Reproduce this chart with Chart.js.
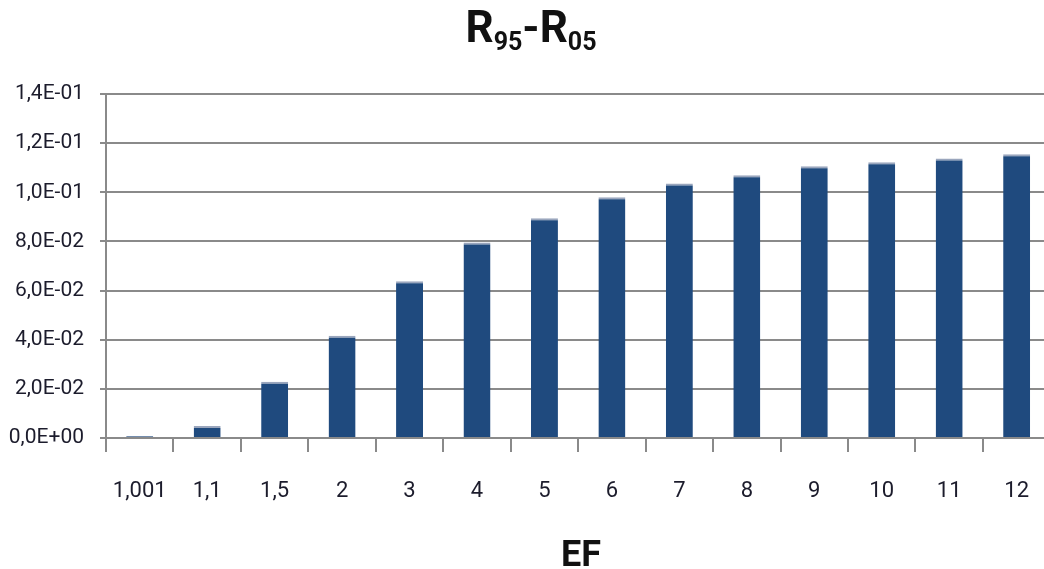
<!DOCTYPE html>
<html>
<head>
<meta charset="utf-8">
<script src="https://cdn.jsdelivr.net/npm/chart.js@4"></script>
<style>
    html, body { margin: 0; padding: 0; background: #fff; overflow: hidden; }
    #wrap { width: 1055px; height: 569px; }
</style>
</head>
<body>
<div id="wrap"><canvas id="rangeChart" width="1055" height="569"></canvas></div>
<script>
const efLabels = ['1,001', '1,1', '1,5', '2', '3', '4', '5', '6', '7', '8', '9', '10', '11', '12'];
const rangeValues = [0.0008, 0.0049, 0.0229, 0.0416, 0.0638, 0.0796, 0.0894, 0.0980, 0.1036, 0.1069, 0.1106, 0.1122, 0.1138, 0.1155];
const yTicks = [0, 0.02, 0.04, 0.06, 0.08, 0.10, 0.12, 0.14];

const fontFamily = 'Roboto, "Open Sans", sans-serif';
const textColor = '#1c1c2c';
const lineColor = '#8a8a8a';

// 1.4e-1 -> "1,4E-01"
function sciLabel(v) {
    var parts = Number(v).toExponential(1).split('e');
    var exp = parseInt(parts[1], 10);
    var sign = exp < 0 ? '-' : '+';
    var digits = String(Math.abs(exp)).padStart(2, '0');
    return parts[0].replace('.', ',') + 'E' + sign + digits;
}

// title with subscripts and the axis name, drawn straight on the canvas
const extraText = {
    id: 'extraText',
    afterDraw(chart) {
        var ctx = chart.ctx;
        var pieces = [
            { t: 'R', sub: false },
            { t: '95', sub: true },
            { t: '-', sub: false },
            { t: 'R', sub: false },
            { t: '05', sub: true }
        ];
        var big = 'bold 44px ' + fontFamily;
        var small = 'bold 25px ' + fontFamily;
        var total = 0;
        pieces.forEach(function (p) {
            ctx.font = p.sub ? small : big;
            p.w = ctx.measureText(p.t).width;
            total += p.w;
        });
        ctx.save();
        ctx.fillStyle = '#111';
        ctx.textBaseline = 'alphabetic';
        ctx.textAlign = 'left';
        var x = 531 - total / 2;
        pieces.forEach(function (p) {
            ctx.font = p.sub ? small : big;
            ctx.fillText(p.t, x, p.sub ? 50 : 42);
            x += p.w;
        });
        ctx.font = 'bold 36px ' + fontFamily;
        ctx.textAlign = 'center';
        ctx.fillText('EF', 581, 566);
        ctx.restore();
    }
};

document.addEventListener('DOMContentLoaded', function () {
    var el = document.getElementById('rangeChart');

    new Chart(el, {
        type: 'bar',
        data: {
            labels: efLabels,
            datasets: [{
                label: 'R95-R05',
                data: rangeValues,
                backgroundColor: '#1f4a7e',
                borderColor: '#9aa6bd',
                borderWidth: { top: 2, left: 0, right: 0, bottom: 0 },
                borderSkipped: 'bottom',
                categoryPercentage: 1,
                barPercentage: 0.4
            }]
        },
        options: {
            responsive: false,
            animation: false,
            layout: { padding: { top: 94, left: 0, right: 0, bottom: 0 } },
            plugins: {
                legend: { display: false },
                tooltip: { enabled: false }
            },
            scales: {
                x: {
                    offset: true,
                    grid: {
                        offset: true,
                        drawOnChartArea: false,
                        drawTicks: true,
                        tickLength: 14,
                        color: lineColor,
                        lineWidth: 2
                    },
                    border: { color: lineColor, width: 2 },
                    ticks: {
                        color: textColor,
                        padding: 26,
                        maxRotation: 0,
                        font: { family: fontFamily, size: 22 }
                    },
                    afterFit: function (scale) { scale.height = 131; }
                },
                y: {
                    min: 0,
                    max: 0.14,
                    afterBuildTicks: function (scale) {
                        scale.ticks = yTicks.map(function (v) { return { value: v }; });
                    },
                    grid: {
                        color: lineColor,
                        lineWidth: 2,
                        tickLength: 6
                    },
                    border: { color: lineColor, width: 2 },
                    ticks: {
                        color: textColor,
                        padding: 16,
                        font: { family: fontFamily, size: 21 },
                        callback: function (v) { return sciLabel(v); }
                    },
                    afterFit: function (scale) { scale.width = 106; }
                }
            }
        },
        plugins: [extraText]
    });
});
</script>
</body>
</html>
